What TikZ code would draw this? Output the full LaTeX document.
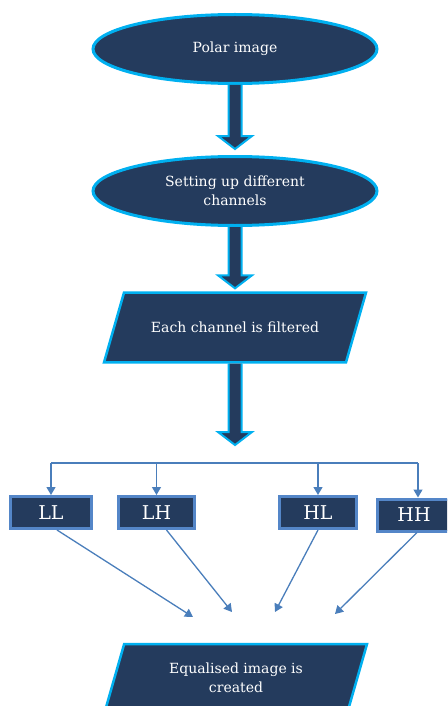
\documentclass[tikz,border=0pt]{standalone}
\usepackage{fontspec}
\setmainfont{DejaVu Serif}
\usetikzlibrary{shapes.geometric,arrows.meta,calc}

\definecolor{navy}{RGB}{36,59,93}
\definecolor{rim}{RGB}{0,176,240}
\definecolor{steel}{RGB}{74,126,187}
\definecolor{boxrim}{RGB}{84,134,200}

\tikzset{
  stage/.style={ellipse,fill=navy,draw=rim,line width=3pt,minimum width=284pt,
    minimum height=69pt,text=white,align=center,font=\fontsize{14}{19}\selectfont},
  iobox/.style={trapezium,trapezium stretches body=true,trapezium left angle=74,
    trapezium right angle=106,fill=navy,draw=rim,line width=2.5pt,
    minimum width=262pt,inner ysep=29.5pt,
    text=white,align=center,font=\fontsize{14}{19}\selectfont},
  band/.style={rectangle,fill=navy,draw=boxrim,line width=3pt,minimum height=32pt,
    text=white,font=\fontsize{19}{19}\selectfont},
  link/.style={draw=steel,line width=1.3pt,-{Triangle[width=9pt,length=8pt]}},
  bigarrow/.style={fill=navy,draw=rim,line width=2pt,line join=miter}
}

\newcommand{\thickdown}[3]{%
  \draw[bigarrow] ($(#1)+(-6.5,0)$) -- ($(#2)+(-6.5,-#3-13)$)
    -- ($(#2)+(-17,-#3-13)$) -- ($(#2)+(0,-#3)$) -- ($(#2)+(17,-#3-13)$)
    -- ($(#2)+(6.5,-#3-13)$) -- ($(#1)+(6.5,0)$);}

\begin{document}
\begin{tikzpicture}[x=1pt,y=-1pt]
  \useasboundingbox (0,0) rectangle (447,706);
  \clip (0,0) rectangle (447,706);

  \node[stage] (polar) at (235,49) {Polar image};
  \node[stage] (chan) at (235,191) {Setting up different\\channels};
  \node[iobox] (filt) at (235,327.5) {Each channel is filtered};
  \coordinate (fork) at (235,445);
  \coordinate (bar) at (235,463);

  \thickdown{polar.south}{chan.north}{6}
  \thickdown{chan.south}{filt.north}{3}
  \thickdown{filt.south}{fork}{0}

  \node[band,minimum width=81pt] (ll) at (51,512.5) {LL};
  \node[band,minimum width=76pt] (lh) at (156.5,512.5) {LH};
  \node[band,minimum width=77pt] (hl) at (318,512.5) {HL};
  \node[band,minimum width=74pt] (hh) at (414,515) {HH};

  \draw[steel,line width=1.3pt] (ll.north |- bar) -- ([xshift=4pt]hh.north |- bar);
  \draw[link] (ll.north |- bar) -- (ll.north);
  \draw[link] (lh.north |- bar) -- (lh.north);
  \draw[link] (hl.north |- bar) -- (hl.north);
  \draw[link] ([xshift=4pt]hh.north |- bar) -- ([xshift=4pt]hh.north);

  \node[iobox,inner ysep=18.5pt] (eq) at (236,677.5) {Equalised image is\\created};

  \coordinate (m1) at (193,617);
  \coordinate (m2) at (232,612);
  \coordinate (m3) at (275,612);
  \coordinate (m4) at (335,614);
  \draw[link] ([xshift=6pt]ll.south) -- (m1);
  \draw[link] ([xshift=10pt]lh.south) -- (m2);
  \draw[link] (hl.south) -- (m3);
  \draw[link] ([xshift=3pt]hh.south) -- (m4);
\end{tikzpicture}
\end{document}
